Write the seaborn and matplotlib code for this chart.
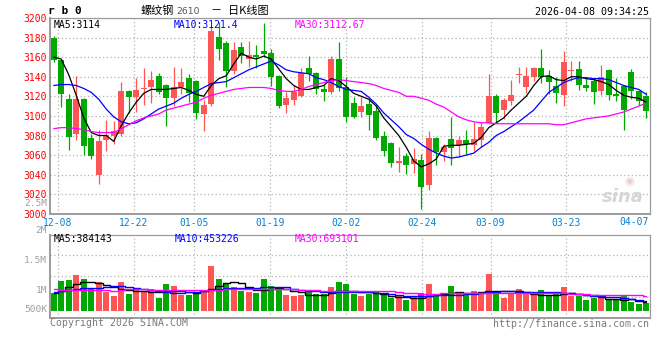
import numpy as np
import pandas as pd
import matplotlib
matplotlib.use("Agg")
import matplotlib.pyplot as plt
import seaborn as sns

# rb0 daily candles, oldest first (80 sessions, 2025-12-05 .. 2026-04-08)
opens = [3179, 3157, 3117, 3082, 3117, 3077, 3040, 3075, 3080, 3082,
         3125, 3119, 3127, 3130, 3141, 3132, 3118, 3130, 3139, 3136,
         3102, 3112, 3181, 3174, 3146, 3170, 3158, 3162, 3166, 3164,
         3141, 3111, 3116, 3120, 3149, 3144, 3127, 3124, 3158, 3129,
         3113, 3104, 3112, 3105, 3080, 3072, 3052, 3059, 3051, 3055,
         3030, 3077, 3063, 3076, 3070, 3075, 3070, 3075, 3093, 3120,
         3106, 3115, 3142, 3130, 3140, 3149, 3141, 3131, 3121, 3146,
         3148, 3132, 3136, 3125, 3147, 3122, 3130, 3145, 3125, 3120]
highs = [3182, 3157, 3122, 3141, 3118, 3082, 3086, 3096, 3095, 3135,
         3126, 3139, 3149, 3146, 3144, 3133, 3150, 3149, 3143, 3137,
         3116, 3191, 3196, 3176, 3175, 3175, 3176, 3172, 3195, 3168,
         3142, 3124, 3132, 3149, 3161, 3145, 3132, 3161, 3175, 3140,
         3119, 3119, 3117, 3111, 3085, 3073, 3068, 3062, 3067, 3061,
         3085, 3078, 3071, 3099, 3079, 3086, 3094, 3094, 3143, 3122,
         3118, 3137, 3150, 3150, 3150, 3168, 3147, 3140, 3166, 3156,
         3156, 3139, 3139, 3152, 3148, 3139, 3132, 3148, 3126, 3124]
lows = [3155, 3109, 3065, 3075, 3060, 3056, 3031, 3064, 3071, 3080,
        3103, 3104, 3111, 3113, 3122, 3090, 3110, 3122, 3114, 3097,
        3085, 3110, 3157, 3130, 3143, 3154, 3150, 3149, 3160, 3131,
        3108, 3103, 3111, 3119, 3136, 3122, 3115, 3122, 3125, 3094,
        3098, 3099, 3086, 3075, 3059, 3048, 3043, 3041, 3042, 3005,
        3024, 3050, 3054, 3050, 3058, 3061, 3064, 3068, 3092, 3093,
        3097, 3111, 3134, 3123, 3136, 3134, 3122, 3113, 3110, 3136,
        3126, 3125, 3112, 3121, 3116, 3115, 3086, 3117, 3111, 3098]
closes = [3157, 3122, 3078, 3117, 3069, 3059, 3074, 3081, 3085, 3125,
          3119, 3126, 3128, 3137, 3124, 3118, 3129, 3135, 3123, 3103,
          3111, 3187, 3168, 3146, 3167, 3161, 3162, 3160, 3163, 3140,
          3110, 3118, 3124, 3144, 3143, 3127, 3124, 3158, 3128, 3099,
          3099, 3110, 3101, 3077, 3064, 3052, 3054, 3050, 3056, 3027,
          3077, 3063, 3068, 3067, 3075, 3071, 3076, 3089, 3120, 3103,
          3116, 3121, 3143, 3141, 3149, 3140, 3135, 3123, 3155, 3147,
          3132, 3128, 3124, 3140, 3121, 3120, 3106, 3125, 3115, 3105]

# price moving averages as drawn on the chart
ma5 = [3160, 3158, 3142, 3121, 3098, 3083, 3080, 3080, 3074, 3090,
       3103, 3114, 3123, 3127, 3127, 3127, 3128, 3129, 3126, 3122,
       3120, 3131, 3138, 3141, 3153, 3164, 3160, 3158, 3161, 3158,
       3148, 3138, 3131, 3127, 3127, 3129, 3131, 3138, 3136, 3130,
       3123, 3120, 3117, 3110, 3098, 3089, 3080, 3068, 3054, 3048,
       3051, 3056, 3069, 3070, 3070, 3071, 3072, 3078, 3088, 3093,
       3098, 3106, 3113, 3120, 3131, 3140, 3141, 3137, 3136, 3140,
       3140, 3138, 3137, 3135, 3132, 3126, 3121, 3119, 3118, 3114]
ma10 = [3131, 3132, 3132, 3131, 3128, 3124, 3117, 3107, 3099, 3094,
        3092, 3093, 3097, 3102, 3107, 3110, 3113, 3118, 3122, 3125,
        3129, 3133, 3134, 3135, 3139, 3143, 3147, 3150, 3153, 3156,
        3152, 3147, 3145, 3144, 3143, 3139, 3137, 3134, 3130, 3127,
        3126, 3125, 3119, 3112, 3103, 3096, 3089, 3081, 3077, 3071,
        3066, 3062, 3059, 3057, 3058, 3060, 3062, 3068, 3073, 3080,
        3084, 3089, 3094, 3100, 3106, 3115, 3124, 3129, 3134, 3137,
        3139, 3139, 3138, 3138, 3137, 3134, 3131, 3129, 3127, 3122]
ma30 = [3087, 3088, 3088, 3087, 3086, 3084, 3083, 3083, 3083, 3087,
        3091, 3095, 3098, 3100, 3102, 3106, 3108, 3110, 3112, 3114,
        3118, 3121, 3123, 3125, 3127, 3128, 3129, 3129, 3129, 3128,
        3126, 3125, 3125, 3127, 3130, 3132, 3134, 3136, 3137, 3136,
        3135, 3134, 3133, 3131, 3128, 3126, 3124, 3120, 3120, 3118,
        3116, 3112, 3109, 3104, 3099, 3096, 3094, 3093, 3093, 3092,
        3092, 3092, 3092, 3092, 3092, 3092, 3092, 3091, 3091, 3093,
        3095, 3097, 3098, 3099, 3100, 3102, 3104, 3107, 3110, 3113]

# volume in thousand lots, plus its moving averages
vol_k = [780, 1335, 1380, 1605, 1425, 1005, 1275, 855, 660, 1290,
         750, 930, 885, 960, 585, 1200, 1110, 705, 705, 810,
         855, 2025, 1425, 1260, 1050, 885, 855, 810, 1425, 1110,
         1005, 705, 675, 705, 900, 750, 750, 1080, 1290, 1200,
         750, 660, 750, 855, 705, 570, 660, 480, 600, 795,
         1200, 750, 660, 1110, 825, 705, 885, 780, 1650, 900,
         570, 810, 975, 855, 705, 930, 705, 750, 1065, 660,
         660, 480, 570, 690, 525, 495, 690, 390, 300, 345]
vma5_k = [795, 885, 1080, 1215, 1275, 1290, 1245, 1140, 1080, 990,
          915, 885, 870, 855, 825, 900, 900, 870, 840, 810,
          870, 960, 1110, 1230, 1290, 1245, 1080, 930, 930, 960,
          1005, 960, 900, 840, 720, 690, 720, 780, 900, 885,
          870, 855, 840, 780, 735, 660, 630, 615, 585, 585,
          645, 705, 735, 780, 840, 810, 780, 825, 870, 885,
          885, 885, 900, 855, 750, 705, 690, 690, 750, 780,
          750, 720, 705, 630, 540, 510, 480, 510, 450, 390]
vma10_k = [855, 885, 930, 975, 1005, 1005, 1035, 1080, 1110, 1095,
           1065, 1020, 990, 945, 900, 855, 810, 810, 825, 855,
           885, 930, 990, 1035, 1035, 1035, 1020, 1035, 1050, 1080,
           1080, 1050, 990, 930, 900, 870, 855, 855, 855, 855,
           855, 840, 825, 810, 780, 750, 705, 675, 660, 660,
           675, 690, 690, 705, 720, 750, 765, 795, 825, 855,
           870, 870, 855, 840, 840, 840, 840, 825, 810, 780,
           750, 705, 675, 645, 630, 600, 570, 525, 480, 450]
vma30_k = [960, 945, 930, 930, 930, 930, 930, 915, 900, 930,
           960, 960, 960, 945, 945, 930, 930, 930, 930, 930,
           930, 930, 945, 960, 975, 990, 990, 990, 990, 990,
           990, 975, 975, 945, 930, 915, 900, 900, 900, 900,
           900, 900, 900, 900, 885, 870, 855, 810, 780, 765,
           750, 765, 780, 780, 780, 780, 780, 780, 795, 810,
           810, 810, 810, 810, 810, 810, 810, 795, 780, 765,
           750, 735, 720, 720, 720, 720, 705, 690, 690, 675]

# date grid: candle index of each labelled session
tick_idx = [1, 11, 19, 29, 39, 49, 58, 68]
tick_labels = ["12-08", "12-22", "01-05", "01-19", "02-02", "02-24", "03-09", "03-23"]
last_label = "04-07"
price_ticks = [3000, 3020, 3040, 3060, 3080, 3100, 3120, 3140, 3160, 3180, 3200]
vol_axis_labels = ["2.5M", "2M", "1.5M", "1M", "500K"]

ma_labels = ["MA5:3114", "MA10:3121.4", "MA30:3112.67"]
vma_labels = ["MA5:384143", "MA10:453226", "MA30:693101"]

RED = "#ff5555"
GREEN = "#00a800"
GRID = "#b4b4b4"
EDGE = "#9c9c9c"
MA_COLORS = ["black", "#0000ff", "#ff00ff"]

sns.set_style("white")
plt.rcParams["font.family"] = ["DejaVu Sans Mono", "Noto Sans CJK SC"]

n = len(closes)
df = pd.DataFrame({
    "idx": np.arange(n),
    "open": opens, "high": highs, "low": lows, "close": closes,
    "ma5": ma5, "ma10": ma10, "ma30": ma30,
    "vol": np.array(vol_k) * 1000,
    "vma5": np.array(vma5_k) * 1000,
    "vma10": np.array(vma10_k) * 1000,
    "vma30": np.array(vma30_k) * 1000,
})
df["dir"] = np.where(df["close"] >= df["open"], "up", "down")
colors = np.where(df["dir"] == "up", RED, GREEN)

W, H = 660, 360
fig = plt.figure(figsize=(W / 100, H / 100), dpi=100)
fig.patch.set_facecolor("white")

# sina draws the date grid on an (n-1) slot scale
grid_x = np.array(tick_idx) * n / (n - 1) - 0.5


def box(a):
    for side in ["top", "right"]:
        a.spines[side].set_color(EDGE)
        a.spines[side].set_linewidth(0.9)
    for side in ["left", "bottom"]:
        a.spines[side].set_color(EDGE)
        a.spines[side].set_linewidth(1.4)
    a.grid(True, color=GRID, linestyle=(0, (1, 2)), linewidth=0.9)
    a.set_axisbelow(True)
    a.set_xlabel("")
    a.set_ylabel("")


def ftext(px, py, s, **kw):
    fig.text(px / W, 1 - py / H, s, va="center", **kw)


# price panel
ax = fig.add_axes([50 / W, 1 - 213.9 / H, 600 / W, 196 / H])
ax.vlines(df["idx"], df["low"], df["high"], colors=colors, linewidth=0.9, zorder=2)
body_lo = np.minimum(df["open"], df["close"])
body_h = np.maximum((df["close"] - df["open"]).abs(), 1.0)
ax.bar(df["idx"], body_h, bottom=body_lo, width=0.8, color=colors, linewidth=0, zorder=2)
for col, c in zip(["ma5", "ma10", "ma30"], MA_COLORS):
    sns.lineplot(data=df, x="idx", y=col, color=c, linewidth=0.9, ax=ax, zorder=3)
ax.set_xlim(-0.5, n - 0.5)
ax.set_ylim(3000, 3200)
ax.set_yticks(price_ticks)
ax.set_xticks(grid_x, tick_labels)
ax.tick_params(axis="y", length=0, pad=2.2, labelsize=7, labelcolor="#ff0000")
ax.tick_params(axis="x", length=0, pad=2.6, labelsize=7, labelcolor="#0a7fd0")
box(ax)
for lab, c, px in zip(ma_labels, MA_COLORS, [54, 174, 295]):
    ftext(px, 24.5, lab, color=c, fontsize=7)

# sina watermark
ax.text(0.955, 0.085, "sina", transform=ax.transAxes, ha="center", va="center",
        fontsize=13, fontweight="bold", style="italic", color="#d6d6d6",
        family="DejaVu Sans", zorder=1)
ax.text(0.965, 0.165, "◉", transform=ax.transAxes, ha="center", va="center",
        fontsize=8, color="#f3cccc", family="DejaVu Sans", zorder=1)

# volume panel
axv = fig.add_axes([50 / W, 1 - 317.7 / H, 600 / W, 83 / H])
sns.barplot(data=df, x="idx", y="vol", hue="dir", palette={"up": RED, "down": GREEN},
            dodge=False, width=0.8, saturation=1, linewidth=0, legend=False, ax=axv, zorder=2)
for col, c in zip(["vma5", "vma10", "vma30"], MA_COLORS):
    sns.lineplot(data=df, x="idx", y=col, color=c, linewidth=1.0,
                 drawstyle="steps-mid", ax=axv, zorder=3)
axv.set_xlim(-0.5, n - 0.5)
vlo, vhi = -315000, 3420000
axv.set_ylim(vlo, vhi)
axv.set_xticks(grid_x, [""] * len(grid_x))
axv.set_yticks([vlo + f * (vhi - vlo) for f in (0.25, 0.5, 0.75)], ["", "", ""])
axv.tick_params(length=0)
box(axv)

for lab, c, px in zip(vma_labels, MA_COLORS, [54, 175, 295]):
    ftext(px, 238.6, lab, color=c, fontsize=7)

for lab, py in zip(vol_axis_labels, [203.5, 230.7, 260.7, 290.7, 310.0]):
    ftext(47, py, lab, ha="right", color="#a0a0a0", fontsize=6.8)

ftext(649, 222, last_label, ha="right", color="#0a7fd0", fontsize=7)

# header
ftext(48, 11.5, "r b 0", fontsize=8, fontweight="bold", color="black")
ftext(140, 11, "螺纹钢", fontsize=8, color="black", family="Noto Sans CJK SC")
ftext(176, 11.5, "2610", fontsize=6.7, color="#555555", family="DejaVu Sans")
ftext(211, 11, "－", fontsize=8, color="black", family="Noto Sans CJK SC")
ftext(228, 11, "日K线图", fontsize=8, color="black", family="Noto Sans CJK SC")
ftext(649, 12, "2026-04-08 09:34:25", ha="right", fontsize=7.2, color="black")

# footer
ftext(50, 323.5, "Copyright 2026 SINA.COM", fontsize=7.1, color="#7a7a7a")
ftext(649, 324, "http://finance.sina.com.cn", ha="right", fontsize=7.1, color="#7a7a7a")

fig.savefig("out.png", dpi=100, facecolor="white")
